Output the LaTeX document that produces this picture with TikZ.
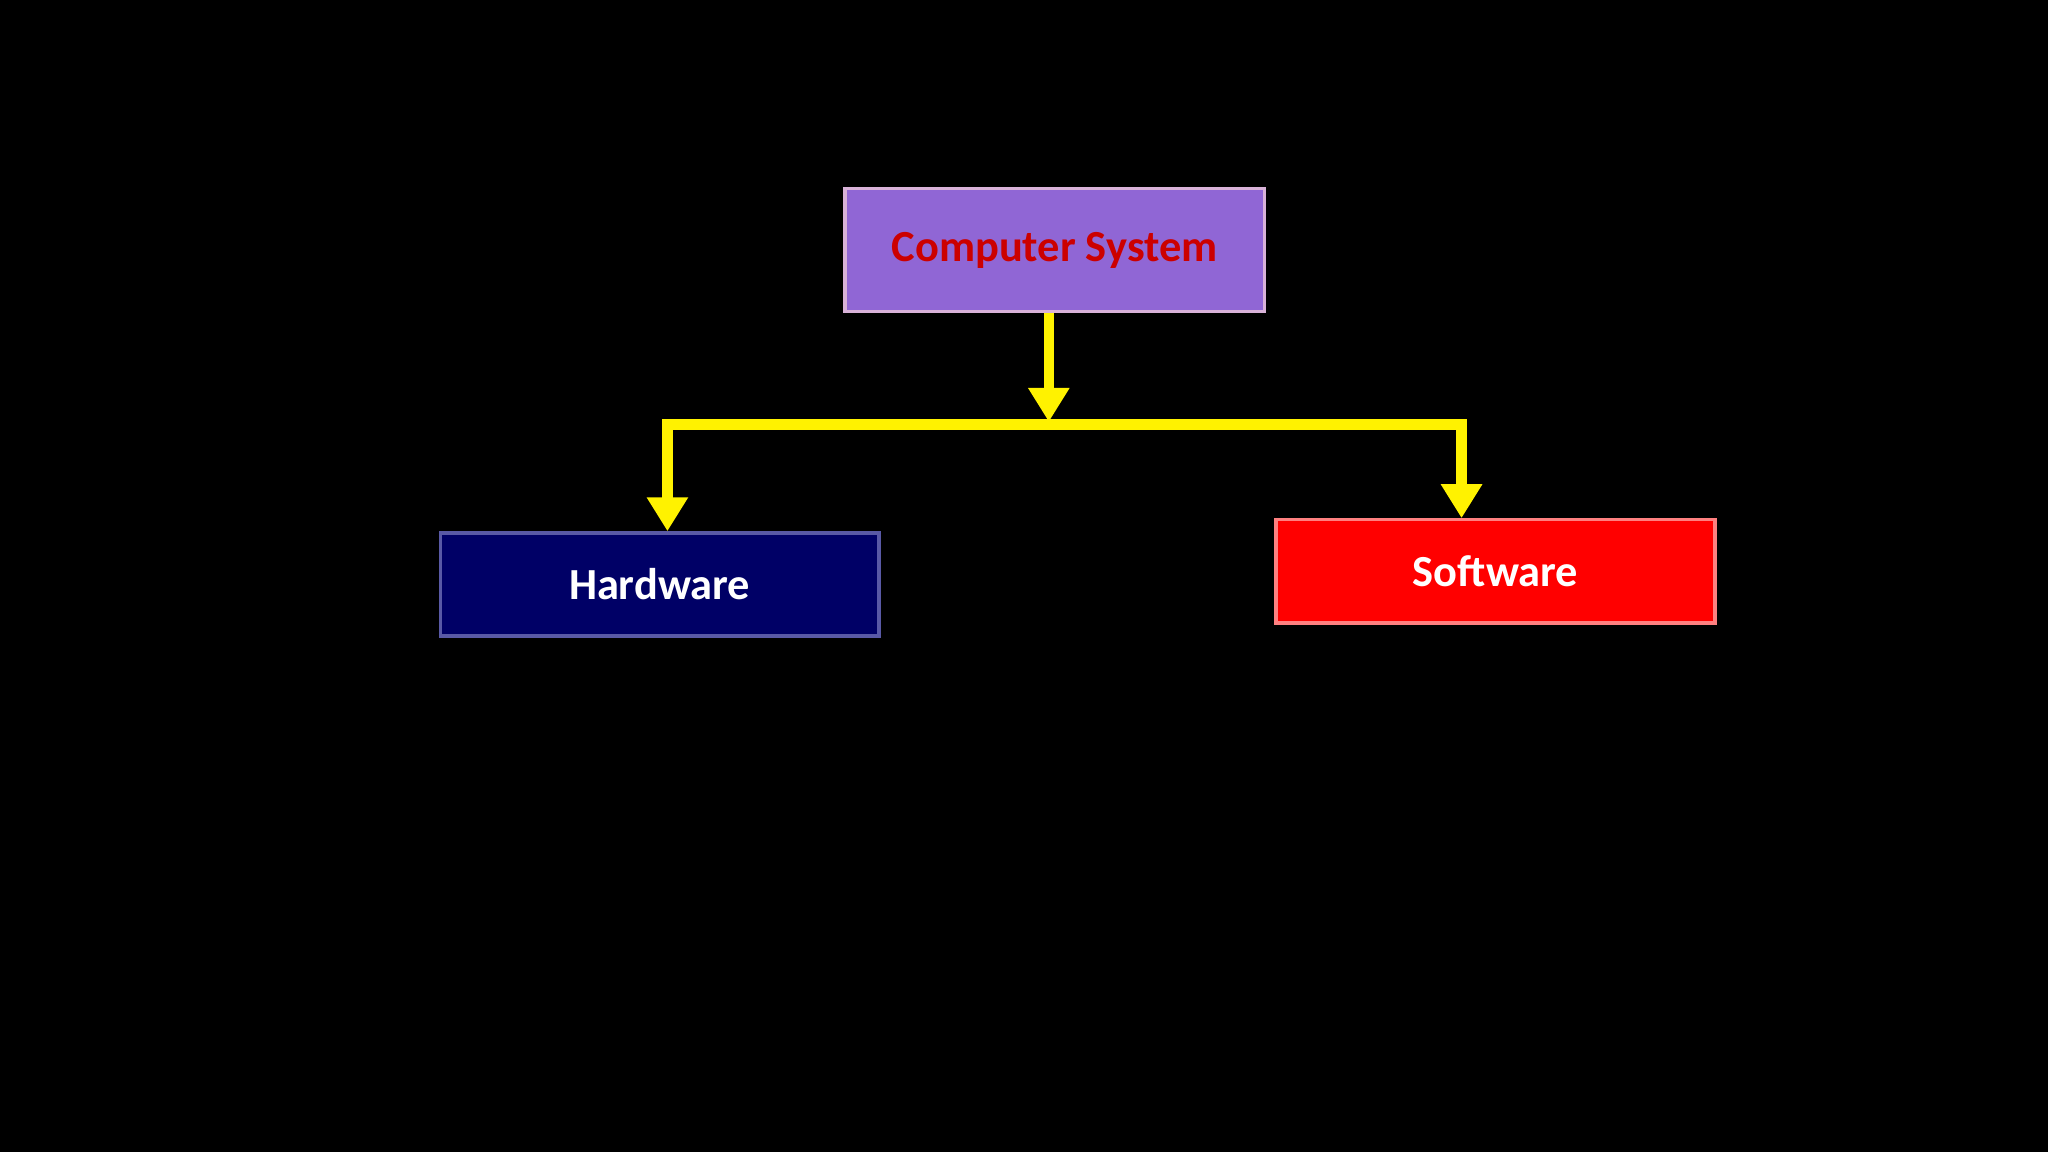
\documentclass[tikz,border=0pt]{standalone}
\usepackage{fontspec}
\setmainfont{Carlito}
\usetikzlibrary{arrows.meta}
\begin{document}
\begin{tikzpicture}[x=1pt,y=-1pt,
  box/.style={draw, line width=2.5pt, inner sep=0pt, font=\bfseries\fontsize{34}{40}\selectfont},
  conn/.style={draw=yellow, line width=8pt},
  tip/.style={-{Triangle[width=30pt,length=26pt]}}]
\fill[black] (0,0) rectangle (1568,882);
\useasboundingbox (0,0) rectangle (1568,882);
\node[box, fill=violet!55!blue!60!white, draw=violet!30!white, text=red!80!black, minimum width=321pt, minimum height=94pt] (cs) at (807.5,191.5) {Computer System};
\node[box, fill=blue!40!black, draw=gray!70!blue, text=white, minimum width=336pt, minimum height=79pt] (hw) at (505,447.5) {Hardware};
\node[box, fill=red, draw=red!50!white, text=white, minimum width=336pt, minimum height=79pt] (sw) at (1145,437.5) {Software};
\coordinate (j) at (803,325);
\coordinate (l) at (511,325);
\coordinate (r) at (1119,325);
\draw[conn, tip, fill=yellow] (cs.south -| j) -- (803,323);
\draw[conn, line cap=rect] (l) -- (r);
\draw[conn, tip, fill=yellow] (l) -- (l |- hw.north);
\draw[conn, tip, fill=yellow] (r) -- (r |- sw.north);
\end{tikzpicture}
\end{document}
